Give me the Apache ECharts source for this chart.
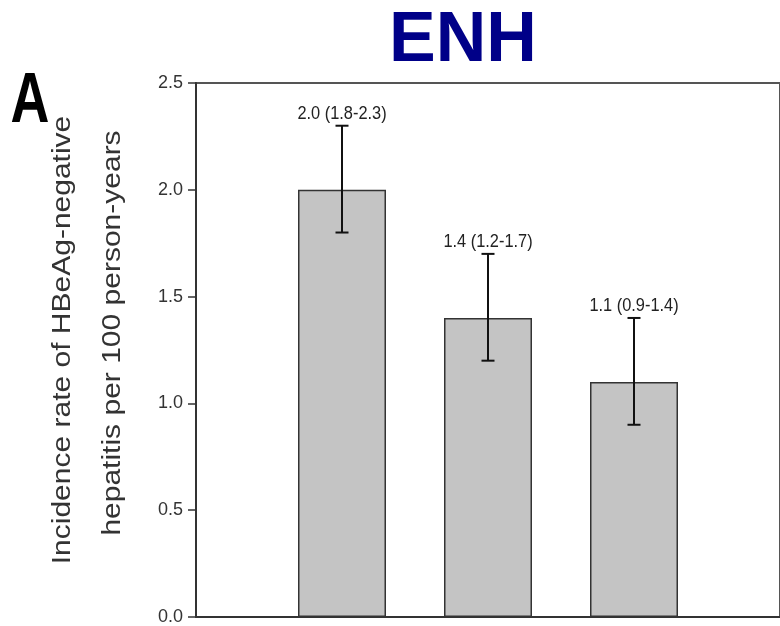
<!DOCTYPE html>
<html><head><meta charset="utf-8">
<script src="https://cdn.jsdelivr.net/npm/echarts@6/dist/echarts.min.js"></script>
<style>html,body{margin:0;padding:0;background:#fff}#c{width:780px;height:626px}</style>
</head><body><div id="c"></div>
<script>
// ---- data ----
const categories = ['', 'Group 1', 'Group 2', 'Group 3', ' '];
const rates  = [null, 2.0, 1.4, 1.1, null];
const ciLow  = [null, 1.8, 1.2, 0.9, null];
const ciHigh = [null, 2.3, 1.7, 1.4, null];
const yMin = 0, yMax = 2.5, yStep = 0.5;
const titleText = 'ENH';
const panelLetter = 'A';
const yLabelLines = ['Incidence rate of HBeAg-negative', 'hepatitis per 100 person-years'];

// ---- chart ----
const errData = [];
categories.forEach((c, i) => {
  if (rates[i] != null) errData.push([i, ciLow[i], ciHigh[i], rates[i]]);
});

const chart = echarts.init(document.getElementById('c'), null, {renderer: 'canvas'});
const FONT = '"Liberation Sans", Arial, Helvetica, sans-serif';

chart.setOption({
  backgroundColor: '#ffffff',
  animation: false,
  grid: {left: 196, top: 83, width: 587, height: 534, show: true,
         borderColor: '#555', borderWidth: 2, backgroundColor: '#fff'},
  xAxis: {
    type: 'category', data: categories, boundaryGap: false,
    axisLine: {show: true, lineStyle: {color: '#333', width: 2}},
    axisTick: {show: false}, axisLabel: {show: false}, splitLine: {show: false}
  },
  yAxis: {
    type: 'value', min: yMin, max: yMax, interval: yStep,
    axisLine: {show: true, lineStyle: {color: '#333', width: 2}},
    axisTick: {show: true, inside: false, length: 8, lineStyle: {color: '#333', width: 1.5}},
    axisLabel: {fontSize: 18, fontFamily: FONT, color: '#333', margin: 13,
                formatter: v => v.toFixed(1)},
    splitLine: {show: false}
  },
  graphic: [
    {type: 'text', x: 463, y: 42, z: 10,
     style: {text: titleText, fontSize: 70, fontWeight: 'bold', fontFamily: FONT,
             fill: '#000088', align: 'center', verticalAlign: 'middle'}},
    {type: 'text', x: 30, y: 103, scaleX: 0.77, z: 10,
     style: {text: panelLetter, fontSize: 70, fontWeight: 'bold', fontFamily: FONT,
             fill: '#000', align: 'center', verticalAlign: 'middle'}},
    {type: 'text', x: 63, y: 340, rotation: Math.PI / 2, scaleY: 0.87, z: 10,
     style: {text: yLabelLines[0], fontSize: 30, fontFamily: FONT, fill: '#333',
             align: 'center', verticalAlign: 'middle'}},
    {type: 'text', x: 113, y: 333, rotation: Math.PI / 2, scaleY: 0.87, z: 10,
     style: {text: yLabelLines[1], fontSize: 30, fontFamily: FONT, fill: '#333',
             align: 'center', verticalAlign: 'middle'}}
  ],
  series: [
    {
      type: 'bar', data: rates, barWidth: 88,
      itemStyle: {color: '#c4c4c4', borderColor: '#333', borderWidth: 1.5}
    },
    {
      type: 'custom', data: errData, z: 5,
      encode: {x: 0, y: [1, 2]},
      renderItem: function (params, api) {
        const idx = api.value(0);
        const lo = api.coord([idx, api.value(1)]);
        const hi = api.coord([idx, api.value(2)]);
        const cap = 6.5;
        const st = {stroke: '#111', lineWidth: 2};
        const txt = api.value(3).toFixed(1) + ' (' + api.value(1).toFixed(1) + '-' + api.value(2).toFixed(1) + ')';
        return {type: 'group', children: [
          {type: 'line', shape: {x1: lo[0], y1: lo[1], x2: hi[0], y2: hi[1]}, style: st},
          {type: 'line', shape: {x1: hi[0] - cap, y1: hi[1], x2: hi[0] + cap, y2: hi[1]}, style: st},
          {type: 'line', shape: {x1: lo[0] - cap, y1: lo[1], x2: lo[0] + cap, y2: lo[1]}, style: st},
          {type: 'text', x: hi[0], y: hi[1] - 12, scaleX: 0.91,
           style: {text: txt, fontSize: 18, fontFamily: FONT, fill: '#222',
                   align: 'center', verticalAlign: 'middle'}}
        ]};
      }
    }
  ]
});
</script>
</body></html>
